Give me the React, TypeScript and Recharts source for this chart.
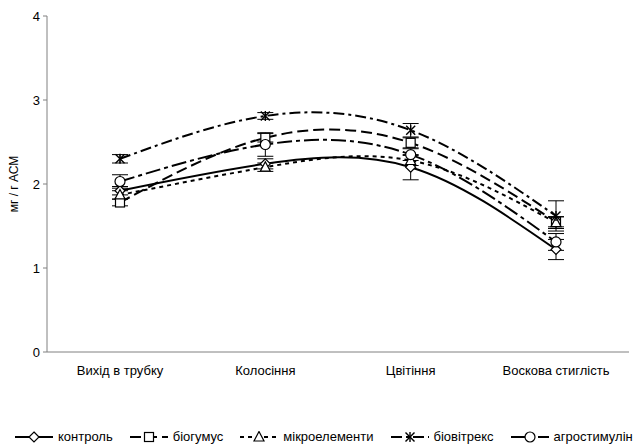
import { LineChart, Line, XAxis, YAxis, ErrorBar, Legend } from 'recharts';

const categories = ['Вихід в трубку', 'Колосіння', 'Цвітіння', 'Воскова стиглість'];

const kontrol = [1.92, 2.24, 2.2, 1.22];
const kontrolErr = [0.05, 0.06, 0.15, 0.12];
const biohumus = [1.78, 2.55, 2.49, 1.55];
const biohumusErr = [0.04, 0.05, 0.06, 0.06];
const mikro = [1.87, 2.2, 2.28, 1.54];
const mikroErr = [0.05, 0.05, 0.06, 0.07];
const biovitreks = [2.3, 2.81, 2.64, 1.62];
const biovitreksErr = [0.05, 0.04, 0.08, 0.18];
const ahro = [2.03, 2.47, 2.35, 1.31];
const ahroErr = [0.08, 0.14, 0.07, 0.1];

const yTicks = [0, 1, 2, 3, 4];

type Shape = 'diamond' | 'square' | 'triangle' | 'star' | 'circle';

const SERIES: { key: string; name: string; values: number[]; errs: number[]; shape: Shape; dash?: string }[] = [
  { key: 'k', name: 'контроль', values: kontrol, errs: kontrolErr, shape: 'diamond' },
  { key: 'b', name: 'біогумус', values: biohumus, errs: biohumusErr, shape: 'square', dash: '11 5' },
  { key: 'm', name: 'мікроелементи', values: mikro, errs: mikroErr, shape: 'triangle', dash: '4 4' },
  { key: 'v', name: 'біовітрекс', values: biovitreks, errs: biovitreksErr, shape: 'star', dash: '11 4 3 4' },
  { key: 'a', name: 'агростимулін', values: ahro, errs: ahroErr, shape: 'circle', dash: '15 4 4 4' },
];

const FONT = 'Liberation Sans, Arial, sans-serif';

const data = categories.map((c, i) => {
  const row: Record<string, string | number> = { cat: c };
  SERIES.forEach((s) => {
    row[s.key] = s.values[i];
    row[s.key + 'Err'] = s.errs[i];
  });
  return row;
});

function Marker({ shape, cx, cy }: { shape: Shape; cx: number; cy: number }) {
  const p = { fill: '#fff', stroke: '#000', strokeWidth: 1.2 };
  switch (shape) {
    case 'diamond':
      return <polygon points={`${cx},${cy - 5} ${cx + 5},${cy} ${cx},${cy + 5} ${cx - 5},${cy}`} {...p} />;
    case 'square':
      return <rect x={cx - 4.5} y={cy - 4.5} width={9} height={9} {...p} />;
    case 'triangle':
      return <polygon points={`${cx},${cy - 5.5} ${cx + 5},${cy + 4} ${cx - 5},${cy + 4}`} {...p} />;
    case 'circle':
      return <circle cx={cx} cy={cy} r={5} {...p} />;
    case 'star':
      return (
        <g stroke="#000" strokeWidth={1.4}>
          <line x1={cx - 4.5} y1={cy - 4.5} x2={cx + 4.5} y2={cy + 4.5} />
          <line x1={cx - 4.5} y1={cy + 4.5} x2={cx + 4.5} y2={cy - 4.5} />
          <line x1={cx} y1={cy - 5} x2={cx} y2={cy + 5} />
        </g>
      );
  }
}

function LegendRow() {
  return (
    <div style={{ display: 'flex', justifyContent: 'flex-start', gap: 17, fontFamily: FONT, fontSize: 13, color: '#000', paddingLeft: 15, whiteSpace: 'nowrap' }}>
      {SERIES.map((s) => (
        <div key={s.key} style={{ display: 'flex', alignItems: 'center', gap: 5 }}>
          <svg width={38} height={12}>
            <line x1={0} y1={6} x2={38} y2={6} stroke="#000" strokeWidth={2} strokeDasharray={s.dash} />
            <Marker shape={s.shape} cx={19} cy={6} />
          </svg>
          <span>{s.name}</span>
        </div>
      ))}
    </div>
  );
}

export default function App() {
  return (
    <div style={{ width: 642, height: 447, background: '#fff', overflow: 'hidden' }}>
      <style>{'body{margin:0}'}</style>
      <LineChart width={642} height={447} data={data} margin={{ top: 16, right: 13, bottom: 0, left: 0 }}>
        <XAxis
          dataKey="cat"
          tickLine={false}
          tickSize={0}
          tickMargin={14}
          height={80}
          padding={{ left: 73, right: 73 }}
          stroke="#808080"
          tick={{ fill: '#000', fontSize: 13, fontFamily: FONT }}
        />
        <YAxis
          domain={[0, 4]}
          ticks={yTicks}
          width={47}
          tickSize={4}
          tickMargin={3}
          stroke="#808080"
          tick={{ fill: '#000', fontSize: 13, fontFamily: FONT }}
          label={{ value: 'мг / г АСМ', angle: -90, position: 'insideLeft', offset: 14, style: { textAnchor: 'middle', fill: '#000', fontSize: 12, fontFamily: FONT } }}
        />
        {SERIES.map((s) => (
          <Line
            key={s.key}
            dataKey={s.key}
            name={s.name}
            type="natural"
            stroke="#000"
            strokeWidth={2}
            strokeDasharray={s.dash}
            isAnimationActive={false}
            activeDot={false}
            dot={(props: any) => <Marker key={`${s.key}-${props.index}`} shape={s.shape} cx={props.cx} cy={props.cy} />}
          >
            <ErrorBar dataKey={s.key + 'Err'} width={8} stroke="#000" strokeWidth={1} direction="y" />
          </Line>
        ))}
        <Legend verticalAlign="bottom" wrapperStyle={{ bottom: 3 }} content={() => <LegendRow />} />
      </LineChart>
    </div>
  );
}
